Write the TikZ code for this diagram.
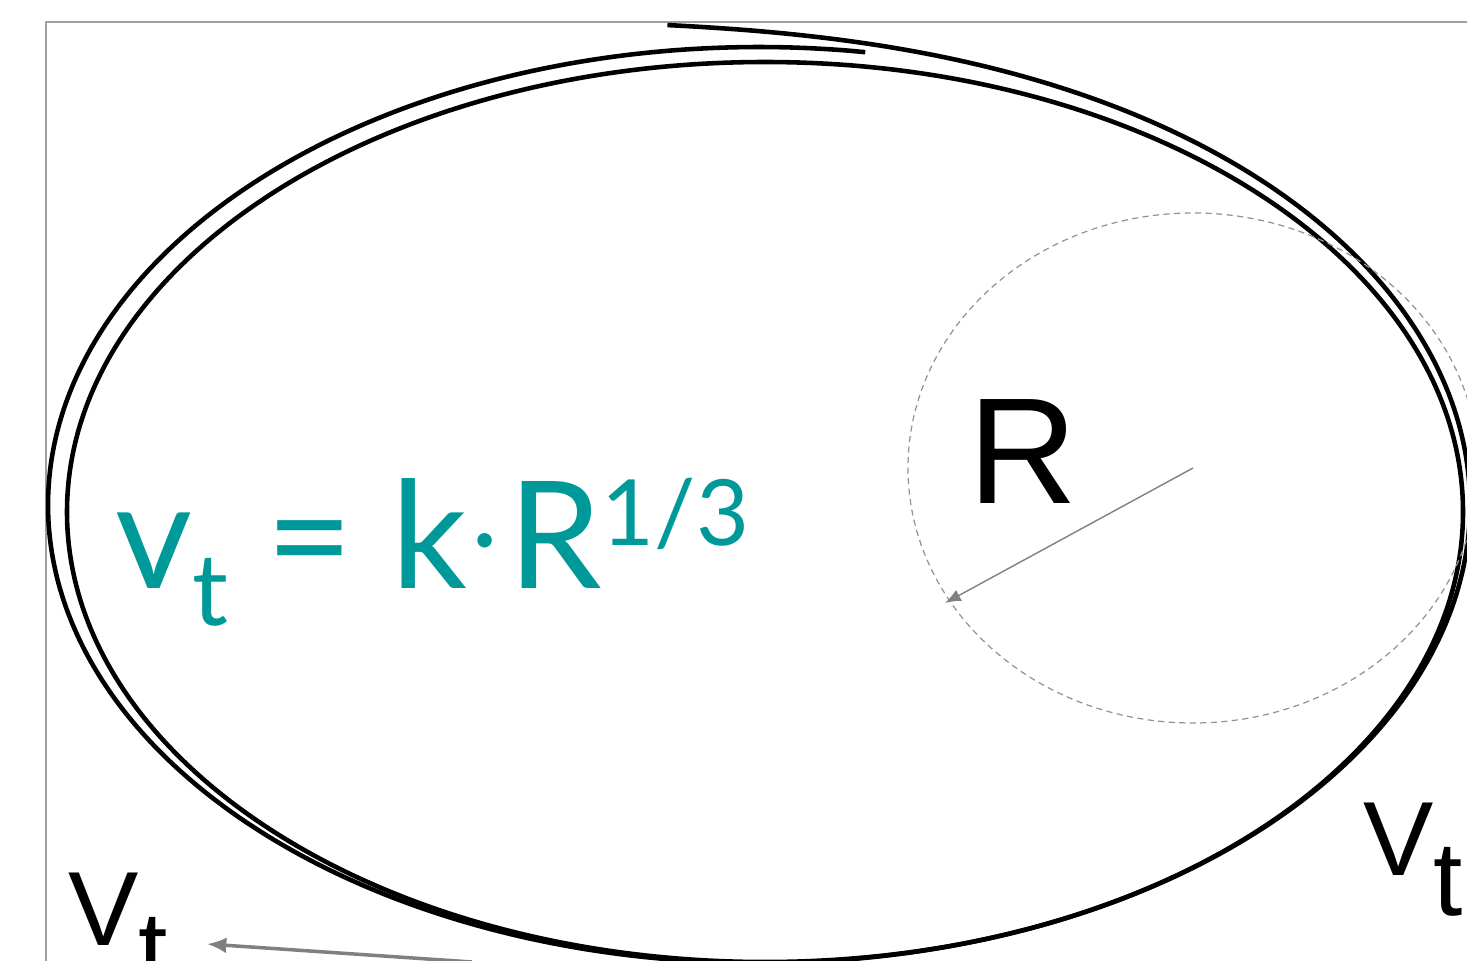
\documentclass[tikz,border=0pt]{standalone}
\usepackage{fontspec}
\setmainfont{Liberation Sans}
\newfontfamily\formfont{Lato}
\usetikzlibrary{arrows.meta,positioning}
\definecolor{tealf}{RGB}{0,153,153}

\begin{document}
\begin{tikzpicture}[x=0.02cm, y=-0.02cm,
    frame/.style={draw=gray!75, line width=0.8pt},
    stroke/.style={draw=black, line width=2.6pt},
    dashring/.style={draw=gray!85, line width=0.7pt, dash pattern=on 3.5pt off 2.5pt},
    rad/.style={draw=gray, line width=0.8pt, -{Latex[length=9pt,width=7pt]}},
    ptr/.style={draw=gray, line width=2pt, -{Latex[length=11pt,width=9pt]}},
    bigr/.style={inner sep=0pt, anchor=base west, font=\fontsize{86}{90}\selectfont},
    vlab/.style={inner sep=0pt, anchor=base west, font=\fontsize{60}{64}\selectfont},
    form/.style={inner sep=0pt, anchor=base west, text=tealf, font=\formfont\fontsize{85}{90}\selectfont}]
    \useasboundingbox (0,0) rectangle (1467,960);
    \clip (0,0) rectangle (1467,960);
    \draw [frame] (46,22) rectangle (1520,1020);
    \draw [stroke] plot [domain=97.4:-278.6, samples=240, smooth, variable=\t]
        ({759+711*cos(\t)}, {505-(458+26*exp(-(97.4-\t)/15))*sin(\t)});
    \draw [stroke] (765,512) ellipse [x radius=698, y radius=450];
    \coordinate (ctr) at (1193,468);
    \coordinate (rim) at (945,603);
    \draw [dashring] (ctr) ellipse [x radius=285, y radius=255];
    \node [bigr] (rlab) at (968,503) {R};
    \draw [rad] (ctr) -- (rim);
    \node [form] (law) at (115,588) {v\raisebox{-0.74cm}{\fontsize{57}{60}\selectfont t} = k\kern3pt\raisebox{0.38cm}{\fontsize{55}{58}\selectfont ·}\kern6ptR\raisebox{0.86cm}{\fontsize{52}{56}\selectfont 1/3}};
    \node [vlab] (vright) at (1363,875) {V\raisebox{-0.8cm}{t}};
    \node [vlab] (vleft) at (68,945) {V\raisebox{-0.8cm}{t}};
    \coordinate (tail) at (472,962);
    \coordinate (tip) at (207,944);
    \draw [ptr] (tail) -- (tip);
\end{tikzpicture}
\end{document}
